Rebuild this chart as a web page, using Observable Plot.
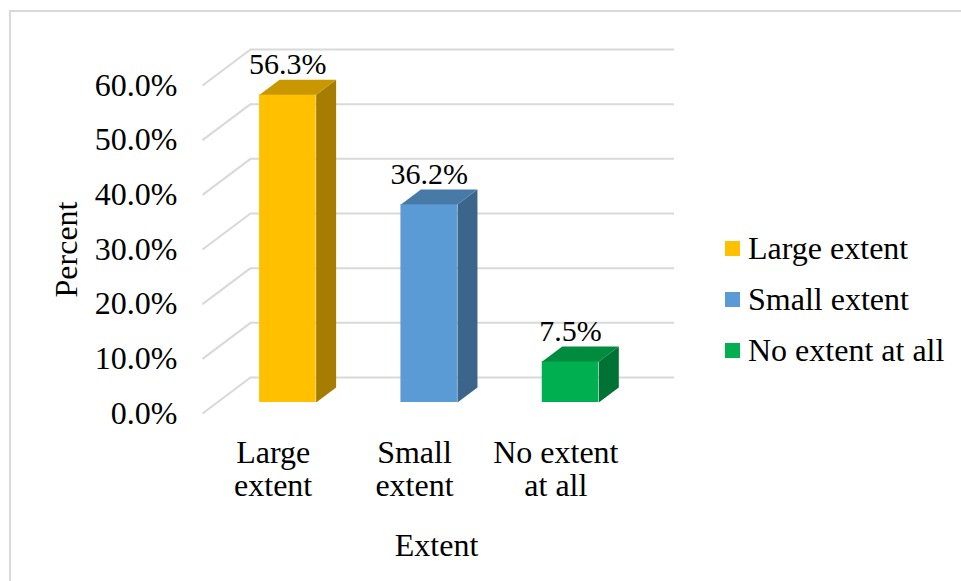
<!DOCTYPE html>
<html>
<head>
<meta charset="utf-8">
<script src="https://cdn.jsdelivr.net/npm/d3@7"></script>
<script src="https://cdn.jsdelivr.net/npm/@observablehq/plot@0.6"></script>
<style>
  html, body { margin: 0; padding: 0; background: #fff; }
  #chart {
    position: relative; width: 961px; height: 581px; overflow: hidden;
    font-family: "Liberation Serif", "Times New Roman", serif; color: #000;
  }
  #chart .border {
    position: absolute; left: 9px; top: 10px; width: 2000px; height: 2000px;
    border: 2px solid #d9d9d9; box-sizing: border-box;
  }
  #chart svg { position: absolute; left: 0; top: 0; }
  #legend { position: absolute; left: 725px; top: 0; }
  #legend .item {
    position: absolute; left: 0; display: flex; align-items: center;
    height: 32px; white-space: nowrap; font-size: 32px; line-height: 1;
  }
  #legend .swatch { width: 15px; height: 15px; margin-right: 8px; flex: none; }
</style>
</head>
<body>
<div id="chart"><div class="border"></div></div>
<script>
// Survey responses: to what extent ... (share of respondents)
const categories = ["Large extent", "Small extent", "No extent at all"];
const categoryTicks = ["Large\nextent", "Small\nextent", "No extent\nat all"];
const percents = [56.3, 36.2, 7.5];
const colors = ["#FFC000", "#5B9BD5", "#00B050"];
const yTicks = [0, 10, 20, 30, 40, 50, 60];

const width = 961, height = 581;
const margin = {top: 85, right: 335, bottom: 168, left: 202};
const yMax = 60;

// pixel size of one category step and of one percentage point
const step = (width - margin.left - margin.right) / categories.length;
const unit = (height - margin.top - margin.bottom) / yMax;

// 3-D depth offsets in pixels: back wall, bar front face, bar thickness
const wallDepth = [48, -36];
const barShift = [14.7, -11];
const barDepth = [20, -15];
const toX = px => px / step;
const toY = py => -py / unit;

const shade = (c, k) => {
  const r = d3.rgb(c);
  return d3.rgb(r.r * k, r.g * k, r.b * k).formatHex();
};

const bars = categories.map((category, i) => ({
  category, value: percents[i], color: colors[i], x1: i + 0.3, x2: i + 0.7
}));

// side and top faces of each bar as closed polygons
const ddx = toX(barDepth[0]), ddy = toY(barDepth[1]);
const sides = bars.flatMap(b =>
  [[b.x2, 0], [b.x2, b.value], [b.x2 + ddx, b.value + ddy], [b.x2 + ddx, ddy]]
    .map(([x, y]) => ({key: b.category, x, y, fill: shade(b.color, 0.65)})));
const tops = bars.flatMap(b =>
  [[b.x1, b.value], [b.x2, b.value], [b.x2 + ddx, b.value + ddy], [b.x1 + ddx, b.value + ddy]]
    .map(([x, y]) => ({key: b.category, x, y, fill: shade(b.color, 0.79)})));

const grid = "#d9d9d9";

const chart = Plot.plot({
  width, height,
  marginTop: margin.top, marginRight: margin.right,
  marginBottom: margin.bottom, marginLeft: margin.left,
  style: {fontFamily: "'Liberation Serif', 'Times New Roman', serif", fontSize: "32px", color: "#000", background: "transparent", overflow: "visible"},
  x: {type: "linear", domain: [0, categories.length], axis: null},
  y: {domain: [0, yMax], ticks: yTicks, tickFormat: d => d.toFixed(1) + "%", tickSize: 0, tickPadding: 25, label: null},
  color: {type: "identity"},
  marks: [
    // back wall gridlines and the floor/side diagonals
    Plot.ruleY(yTicks, {y: d => d, x1: 0, x2: categories.length, dx: wallDepth[0], dy: wallDepth[1], stroke: grid, strokeWidth: 2}),
    Plot.link(yTicks, {x1: 0, y1: d => d, x2: toX(wallDepth[0]), y2: d => d + toY(wallDepth[1]), stroke: grid, strokeWidth: 2}),
    // bars: front face, side face, top face
    Plot.rect(bars, {x1: "x1", x2: "x2", y1: 0, y2: "value", fill: "color", dx: barShift[0], dy: barShift[1]}),
    Plot.line(sides, {x: "x", y: "y", z: "key", fill: "fill", stroke: null, curve: "linear-closed", dx: barShift[0], dy: barShift[1]}),
    Plot.line(tops, {x: "x", y: "y", z: "key", fill: "fill", stroke: null, curve: "linear-closed", dx: barShift[0], dy: barShift[1]}),
    // value labels
    Plot.text(bars, {x: d => (d.x1 + d.x2) / 2, y: "value", text: d => d.value.toFixed(1) + "%", dx: barShift[0], dy: -41, lineAnchor: "middle", fontSize: 30, fill: "#000"}),
    // category labels
    Plot.text(categoryTicks, {x: (d, i) => i + 0.5, text: d => d, frameAnchor: "bottom", textAnchor: "middle", lineAnchor: "top", lineHeight: 1.03, dy: 26, fill: "#000"}),
    // axis titles
    Plot.text(["Percent"], {text: d => d, frameAnchor: "left", textAnchor: "middle", lineAnchor: "middle", rotate: -90, dx: -136, fill: "#000"}),
    Plot.text(["Extent"], {text: d => d, frameAnchor: "bottom", textAnchor: "middle", lineAnchor: "middle", dx: 22, dy: 132, fill: "#000"})
  ]
});

const root = document.getElementById("chart");
root.appendChild(chart);

// legend on the right
const legend = d3.select(root).append("div").attr("id", "legend");
const items = legend.selectAll("div.item").data(categories).join("div")
  .attr("class", "item")
  .style("top", (d, i) => (232 + i * 51) + "px");
items.append("div").attr("class", "swatch").style("background", (d, i) => colors[i]);
items.append("span").text(d => d);
</script>
</body>
</html>
